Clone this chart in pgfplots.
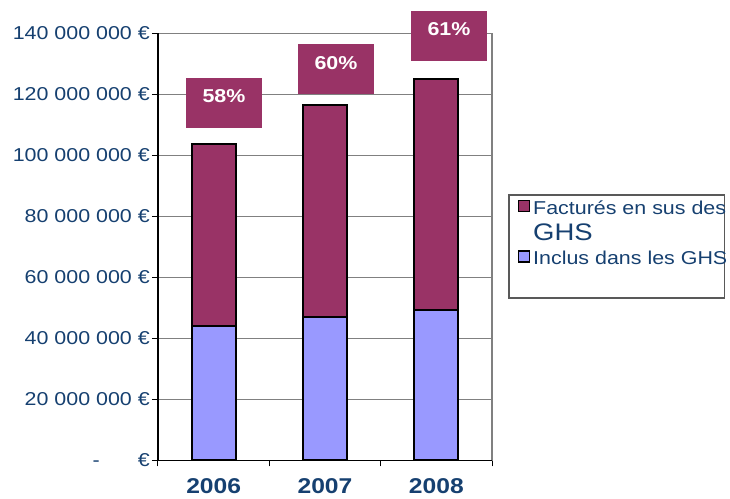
\documentclass[border=0pt]{standalone}
\usepackage{pgfplots}
\pgfplotsset{compat=1.18}
\usepackage{fontspec}
\setmainfont{Liberation Sans}[FakeStretch=1.15]
\definecolor{navy}{RGB}{22,64,112}
\definecolor{maroon}{HTML}{993366}
\definecolor{lav}{HTML}{9999FF}
\pgfplotstableread{
x inclus factures
0 44.1 59.7
1 47.1 69.3
2 49.2 75.8
}\data
\begin{document}
\begin{tikzpicture}
\begin{axis}[
  scale only axis, width=334bp, height=427bp,
  ybar stacked, bar width=0.395,
  xmin=-0.5, xmax=2.5, ymin=0, ymax=140,
  clip=false,
  xtick={0,1,2}, xticklabels={2006,2007,2008},
  minor xtick={-0.5,0.5,1.5,2.5},
  major x tick style={draw=none},
  minor tick length=6bp,
  major tick length=6bp,
  tick align=outside, tick pos=left,
  tick style={black, line width=1bp},
  ytick={0,20,...,140},
  yticklabels={{-\hspace{38bp}€},{20 000 000 €},{40 000 000 €},{60 000 000 €},{80 000 000 €},{100 000 000 €},{120 000 000 €},{140 000 000 €}},
  yticklabel style={text=navy, font=\fontsize{18.7}{20}\selectfont, inner sep=2bp},
  xticklabel style={text=navy, font=\bfseries\fontsize{21.5}{24}\selectfont, yshift=-8.5bp},
  ymajorgrids,
  major grid style={color=gray, line width=1.2bp},
  axis line style={gray, line width=1.2bp},
  reverse legend,
  legend style={draw=none, fill=none, at={(1.077,0.612)}, anchor=north west,
    inner sep=0pt, font=\fontsize{18.7}{26}\selectfont,
    nodes={align=left, text=navy, inner xsep=3bp}, row sep=5bp},
  legend cell align=left,
]
\coordinate (O) at (rel axis cs:0,0);
\addplot[fill=lav, draw=black, line width=2bp,
  legend image code/.code={\draw[fill=lav, draw=black, line width=1.3bp] (0bp,-3bp) rectangle (11bp,8bp);}]
  table[x=x, y=inclus] {\data};
\addplot[fill=maroon, draw=black, line width=2bp,
  legend image code/.code={\draw[fill=maroon, draw=black, line width=1.3bp] (0bp,10bp) rectangle (11bp,21bp);}]
  table[x=x, y=factures] {\data};
\addlegendentry{Inclus dans les GHS}
\addlegendentry{Facturés en sus des\\{\fontsize{24}{26}\selectfont GHS}}
\draw[black, line width=1.3bp] (rel axis cs:0,1) -- (rel axis cs:0,0) -- (rel axis cs:1,0);
\draw[gray!70!black, line width=1.2bp] (rel axis cs:1.051,0.6215) rectangle (rel axis cs:1.695,0.3805);
\tikzset{pct/.style={fill=maroon, text=white, font=\bfseries\fontsize{18.7}{20}\selectfont, minimum width=76bp, inner sep=0pt, text height=25bp, text depth=25bp}}
\node[pct] at (axis cs:0.093,117.2) {58\%};
\node[pct] at (axis cs:1.099,128.2) {60\%};
\node[pct] at (axis cs:2.114,139.2) {61\%};
\end{axis}
\pgfresetboundingbox
\path[use as bounding box] ([shift={(-158bp,-38.6bp)}]O) rectangle ++(730bp,499bp);
\end{tikzpicture}
\end{document}
